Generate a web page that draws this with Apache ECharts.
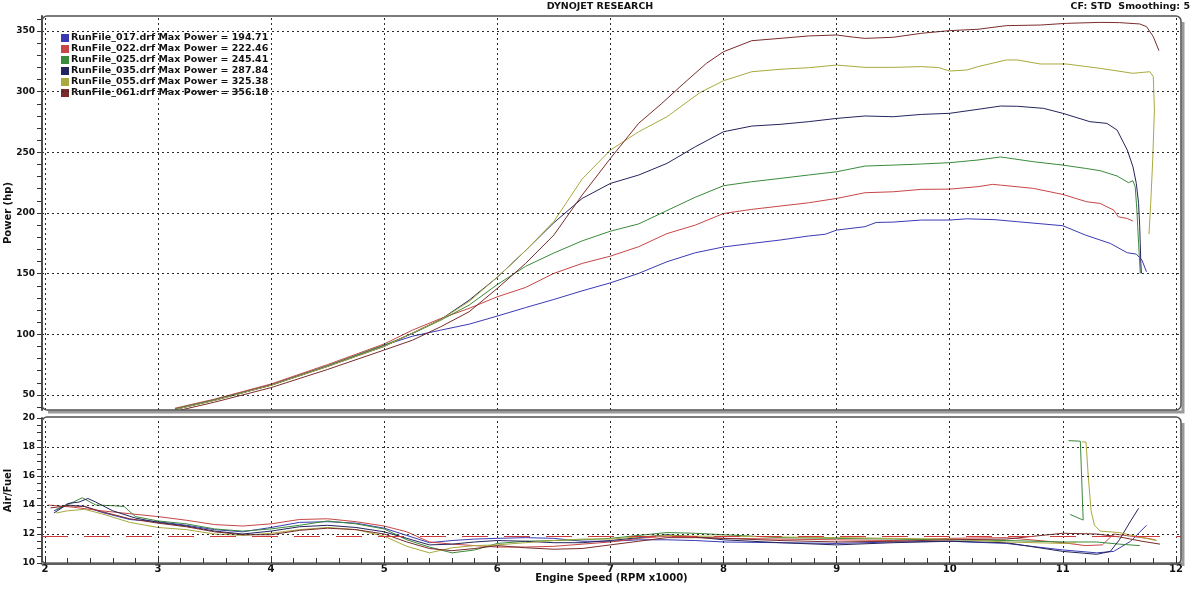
<!DOCTYPE html>
<html><head><meta charset="utf-8">
<script src="https://cdn.jsdelivr.net/npm/echarts@6.0.0/dist/echarts.min.js"></script>
<style>html,body{margin:0;padding:0;background:#fff}#c{width:1200px;height:589px}</style>
</head><body><div id="c"></div>
<script>
// ---------------- DATA ----------------
const runNames = ['RunFile_017.drf','RunFile_022.drf','RunFile_025.drf','RunFile_035.drf','RunFile_055.drf','RunFile_061.drf'];
const maxPower = [194.71, 222.46, 245.41, 287.84, 325.38, 356.18];
const xTickLabels = [2,3,4,5,6,7,8,9,10,11,12];
const powerTicks = [50,100,150,200,250,300,350];
const afrTicks = [10,12,14,16,18,20];
const targetAfr = 11.85;

// Power (hp) vs engine speed (RPM x1000)
const power017 = [[3.17,38.5],[3.5,46],[4.0,58.5],[4.5,74],[5.0,91],[5.25,98.4],[5.5,103.4],[5.75,108.3],[6.0,115],[6.25,122],[6.5,128.7],[6.75,135.8],[7.0,142.4],[7.25,150.2],[7.5,159.8],[7.75,167.2],[8.0,172],[8.25,174.9],[8.5,177.7],[8.75,181],[8.9,182.5],[9.0,185.9],[9.25,188.7],[9.35,192.2],[9.5,192.5],[9.75,194.2],[10.0,194.2],[10.15,195.2],[10.4,194.5],[10.6,192.8],[11.0,189.5],[11.2,181.8],[11.42,174.9],[11.57,167.2],[11.65,166.1],[11.7,161.1],[11.74,151.5]];
const power022 = [[3.15,39],[3.5,46.5],[4.0,59],[4.5,75],[5.0,92],[5.25,103.4],[5.5,113],[5.75,121.3],[6.0,130.9],[6.25,138.6],[6.5,150.2],[6.75,158.4],[7.0,164.4],[7.25,172.2],[7.5,183],[7.75,190],[8.0,199.6],[8.25,203],[8.5,205.7],[8.75,208.4],[9.0,212],[9.25,216.7],[9.5,217.5],[9.75,219.5],[10.0,219.7],[10.25,221.7],[10.38,223.6],[10.45,223],[10.74,220.3],[11.0,215.3],[11.21,209.3],[11.33,207.9],[11.45,202.4],[11.49,196.9],[11.57,195.5],[11.62,193.3]];
const power025 = [[3.15,38.5],[3.5,46],[4.0,58],[4.5,74],[5.0,91],[5.25,100.6],[5.5,111.6],[5.75,124],[6.0,141],[6.25,156],[6.5,167],[6.75,177],[7.0,185],[7.25,191],[7.5,202],[7.75,213],[8.0,222.5],[8.25,225.8],[8.5,228.5],[8.75,231.3],[9.0,234],[9.25,238.7],[9.5,239.5],[9.75,240.4],[10.0,241.5],[10.25,243.7],[10.45,246.2],[10.74,242.3],[11.0,239.5],[11.2,236.8],[11.33,234.9],[11.48,230.5],[11.58,225],[11.62,226.6],[11.64,221.7],[11.655,202.4],[11.67,174.9],[11.685,150.2]];
const power035 = [[3.15,38],[3.5,45.5],[4.0,58],[4.5,73.5],[5.0,90],[5.25,101],[5.5,112.2],[5.75,128],[6.0,147],[6.25,169],[6.5,192],[6.75,212],[7.0,224.4],[7.25,231.3],[7.5,240.9],[7.75,254.6],[8.0,267],[8.25,271.7],[8.5,273.1],[8.75,275.3],[9.0,278],[9.25,280],[9.5,279.4],[9.75,281.3],[10.0,282.2],[10.25,285.5],[10.45,288.2],[10.6,288],[10.83,286.3],[11.0,282.2],[11.24,275.3],[11.39,273.9],[11.48,268.4],[11.57,251.9],[11.62,238.2],[11.65,224.4],[11.67,207.9],[11.68,188.7],[11.69,158.4],[11.695,150.2]];
const power055 = [[3.15,38],[3.5,45.5],[4.0,58],[4.5,73.5],[5.0,90],[5.25,101],[5.5,112],[5.75,127],[6.0,147],[6.25,169],[6.5,193],[6.75,228],[7.0,251.9],[7.25,267],[7.5,279.4],[7.79,299.2],[8.0,309.1],[8.25,316.5],[8.5,318.5],[8.75,319.8],[9.0,322],[9.25,320.1],[9.5,320.1],[9.75,320.7],[9.9,320],[10.0,317.1],[10.15,317.9],[10.25,320.7],[10.5,326.2],[10.6,326.2],[10.8,322.9],[11.03,322.9],[11.33,319.3],[11.62,315.2],[11.71,316],[11.77,316.5],[11.8,312.4],[11.81,285],[11.795,243.7],[11.777,207.9],[11.762,182.6]];
const power061 = [[3.2,37.5],[3.5,44],[4.0,56],[4.5,71],[5.0,87],[5.25,95.1],[5.5,106.2],[5.75,118.5],[6.0,137.8],[6.25,158.4],[6.5,181.8],[6.75,214.8],[7.0,245],[7.25,274],[7.45,290],[7.65,307],[7.85,323.5],[8.0,333],[8.25,342.1],[8.5,344],[8.75,346],[9.0,346.8],[9.15,345],[9.25,344],[9.5,344.9],[9.75,348.2],[10.0,350.4],[10.25,351.5],[10.5,354.5],[10.8,355],[11.03,356.4],[11.33,357.2],[11.5,357],[11.68,355.9],[11.74,353.7],[11.8,345.4],[11.85,333.9]];

// Air/Fuel ratio vs engine speed (RPM x1000)
const afr017 = [[2.08,13.6],[2.2,14.0],[2.35,13.9],[2.5,13.5],[2.75,13.0],[3.0,12.85],[3.25,12.6],[3.5,12.3],[3.75,12.15],[4.0,12.45],[4.25,12.8],[4.5,12.85],[4.75,12.75],[5.0,12.4],[5.2,11.9],[5.4,11.4],[5.6,11.55],[5.8,11.65],[6.0,11.7],[6.25,11.75],[6.5,11.7],[6.75,11.5],[7.0,11.5],[7.25,11.6],[7.5,11.6],[7.75,11.55],[8.0,11.45],[8.5,11.4],[9.0,11.35],[9.5,11.45],[10.0,11.5],[10.5,11.35],[11.0,10.9],[11.3,10.7],[11.45,10.8],[11.6,11.5],[11.74,12.6]];
const afr022 = [[2.03,14.0],[2.25,13.85],[2.5,13.6],[2.75,13.4],[3.0,13.2],[3.25,12.95],[3.5,12.65],[3.75,12.55],[4.0,12.7],[4.25,13.0],[4.5,13.05],[4.75,12.85],[5.0,12.55],[5.2,12.15],[5.4,11.45],[5.6,11.3],[5.8,11.2],[6.0,11.1],[6.25,11.1],[6.5,11.15],[6.75,11.3],[7.0,11.45],[7.25,11.7],[7.5,11.85],[7.75,11.8],[8.0,11.7],[8.5,11.65],[9.0,11.6],[9.5,11.55],[10.0,11.7],[10.5,11.75],[11.0,11.4],[11.2,11.2],[11.35,11.25],[11.45,12.0],[11.6,11.85],[11.75,11.7],[11.82,11.6]];
const afr025 = [[2.1,13.7],[2.25,14.2],[2.33,14.5],[2.45,14.0],[2.6,13.95],[2.7,13.9],[2.8,13.2],[3.0,12.9],[3.25,12.7],[3.5,12.35],[3.75,12.2],[4.0,12.35],[4.25,12.6],[4.5,12.9],[4.75,12.7],[5.0,12.35],[5.2,11.6],[5.4,11.1],[5.6,10.7],[5.8,10.9],[6.0,11.35],[6.25,11.5],[6.5,11.55],[6.75,11.6],[7.0,11.7],[7.25,11.9],[7.5,12.1],[7.75,12.05],[8.0,11.95],[8.5,11.75],[9.0,11.7],[9.5,11.65],[10.0,11.6],[10.5,11.55],[11.0,11.45],[11.3,11.45],[11.5,11.3],[11.68,11.2]];
const afr025Tail = [[11.05,18.44],[11.155,18.4],[11.18,12.96],[11.065,13.35]];
const afr035 = [[2.08,13.45],[2.15,13.8],[2.2,14.1],[2.3,14.2],[2.38,14.45],[2.45,14.2],[2.6,13.6],[2.8,13.1],[3.0,12.8],[3.25,12.55],[3.5,12.2],[3.75,12.0],[4.0,12.2],[4.25,12.5],[4.5,12.6],[4.75,12.45],[5.0,12.15],[5.2,11.7],[5.4,11.25],[5.6,11.3],[5.8,11.45],[6.0,11.55],[6.25,11.5],[6.5,11.4],[6.75,11.4],[7.0,11.55],[7.25,11.75],[7.5,11.95],[7.75,11.8],[8.0,11.6],[8.5,11.4],[9.0,11.25],[9.5,11.4],[10.0,11.5],[10.5,11.4],[11.0,10.8],[11.3,10.6],[11.42,10.8],[11.5,11.6],[11.6,12.9],[11.67,13.77]];
const afr055 = [[2.1,13.45],[2.2,13.6],[2.35,13.7],[2.5,13.4],[2.75,12.8],[3.0,12.45],[3.25,12.3],[3.5,12.0],[3.75,11.9],[4.0,12.05],[4.25,12.3],[4.5,12.45],[4.75,12.3],[5.0,11.85],[5.2,11.15],[5.4,10.7],[5.6,11.05],[5.8,11.2],[6.0,11.25],[6.25,11.4],[6.5,11.55],[6.75,11.65],[7.0,11.65],[7.25,11.8],[7.5,11.9],[7.75,11.85],[8.0,11.85],[8.5,11.8],[9.0,11.75],[9.5,11.7],[10.0,11.65],[10.5,11.45],[11.0,11.35],[11.12,11.4]];
const afr055Tail = [[11.17,18.35],[11.205,18.35],[11.225,16.0],[11.25,13.6],[11.28,12.6],[11.33,12.2],[11.5,12.1],[11.7,11.75],[11.83,11.55]];
const afr061 = [[2.05,13.8],[2.2,13.95],[2.35,13.9],[2.5,13.55],[2.75,13.05],[3.0,12.75],[3.25,12.5],[3.5,12.15],[3.75,11.95],[4.0,11.95],[4.25,12.25],[4.5,12.4],[4.75,12.3],[5.0,12.0],[5.2,11.45],[5.4,11.0],[5.6,10.85],[5.8,11.0],[6.0,11.2],[6.25,11.05],[6.5,10.95],[6.75,11.0],[7.0,11.25],[7.25,11.5],[7.5,11.75],[7.75,11.75],[8.0,11.7],[8.5,11.55],[9.0,11.45],[9.5,11.5],[10.0,11.6],[10.5,11.65],[11.0,12.05],[11.3,12.0],[11.5,11.8],[11.7,11.5],[11.86,11.3]];

// ---------------- CHART ----------------
const powerSets = [power017, power022, power025, power035, power055, power061];
const afrSets = [afr017, afr022, afr025, afr035, afr055, afr061];
const colors = ['#3a3ab4', '#c84646', '#3b8a3b', '#24245e', '#a9a93e', '#7a2c2c'];
const FONT = 'DejaVu Sans';

function steps(a, b, s) { const out = []; for (let v = a; v <= b + 1e-9; v += s) out.push(+v.toFixed(4)); return out; }
const xMinorTicks = steps(2, 12, 0.2);
const powerMinorTicks = steps(40, 360, 10);
const afrMinorTicks = steps(10, 20, 0.5);

const XMIN = 1.9744, XMAX = 12.045;
const PMIN = 37.54, PMAX = 362.46;

const gridLine = { color: '#2a2a2a', type: [2, 3], width: 1 };
const labelStyle = { color: '#111', fontWeight: 'bold', fontFamily: FONT };
const nameStyle = { fontSize: 10, fontWeight: 'bold', color: '#111', fontFamily: FONT };

const series = [];
series.push({
  type: 'line', xAxisIndex: 0, yAxisIndex: 0, data: [], z: 1, silent: true,
  markLine: { symbol: ['none', 'none'], silent: true, animation: false, label: { show: false },
    lineStyle: gridLine,
    data: powerTicks.map(v => ({ yAxis: v })).concat(xTickLabels.map(v => ({ xAxis: v }))) }
});
series.push({
  type: 'line', xAxisIndex: 1, yAxisIndex: 1, data: [], z: 1, silent: true,
  markLine: { symbol: ['none', 'none'], silent: true, animation: false, label: { show: false },
    lineStyle: gridLine,
    data: afrTicks.filter(v => v > 10 && v < 20).map(v => ({ yAxis: v }))
      .concat(xTickLabels.map(v => ({ xAxis: v })))
      .concat([{ yAxis: targetAfr, lineStyle: { color: '#d03a3a', type: [26, 16], width: 1.2 } }]) }
});

runNames.forEach((name, i) => {
  const common = { name, type: 'line', showSymbol: false, symbol: 'none', z: 3, animation: false,
    lineStyle: { width: 1, color: colors[i] }, itemStyle: { color: colors[i] } };
  series.push(Object.assign({}, common, { xAxisIndex: 0, yAxisIndex: 0, data: powerSets[i] }));
  series.push(Object.assign({}, common, { xAxisIndex: 1, yAxisIndex: 1, data: afrSets[i] }));
});
series.push({ name: runNames[2], type: 'line', showSymbol: false, symbol: 'none', z: 3, animation: false,
  lineStyle: { width: 1, color: colors[2] }, itemStyle: { color: colors[2] }, xAxisIndex: 1, yAxisIndex: 1, data: afr025Tail });
series.push({ name: runNames[4], type: 'line', showSymbol: false, symbol: 'none', z: 3, animation: false,
  lineStyle: { width: 1, color: colors[4] }, itemStyle: { color: colors[4] }, xAxisIndex: 1, yAxisIndex: 1, data: afr055Tail });

const chart = echarts.init(document.getElementById('c'), null, { renderer: 'canvas' });
chart.setOption({
  animation: false,
  backgroundColor: '#ffffff',
  textStyle: { fontFamily: FONT },
  title: [
    { text: 'DYNOJET RESEARCH', left: 'center', top: 2, padding: 0,
      textStyle: { fontSize: 9.5, fontWeight: 'bold', color: '#111', fontFamily: FONT } },
    { text: 'CF: STD  Smoothing: 5', right: 10, top: 2, padding: 0,
      textStyle: { fontSize: 9.5, fontWeight: 'bold', color: '#111', fontFamily: FONT } }
  ],
  legend: {
    data: runNames, orient: 'vertical', left: 61, top: 33, padding: 0, itemGap: 1,
    icon: 'rect', itemWidth: 8, itemHeight: 8, selectedMode: false,
    textStyle: { fontSize: 9.5, fontWeight: 'bold', color: '#111', fontFamily: FONT, lineHeight: 9, padding: [0, 0, 0, -3] },
    formatter: name => name + ' Max Power = ' + maxPower[runNames.indexOf(name)].toFixed(2)
  },
  grid: [
    { left: 42, top: 16, width: 1139, height: 394, containLabel: false, outerBoundsMode: 'none' },
    { left: 42, top: 418, width: 1139, height: 145, containLabel: false, outerBoundsMode: 'none' }
  ],
  xAxis: [
    { type: 'value', gridIndex: 0, min: XMIN, max: XMAX, show: true,
      axisLine: { show: false }, axisTick: { show: false }, axisLabel: { show: false }, splitLine: { show: false } },
    { type: 'value', gridIndex: 1, min: XMIN, max: XMAX,
      axisLine: { onZero: false, lineStyle: { color: '#8c8c8c', width: 3 } },
      axisTick: { inside: true, length: 5, customValues: xMinorTicks, lineStyle: { color: '#333', width: 1 } },
      axisLabel: Object.assign({ customValues: xTickLabels, fontSize: 10, margin: 1 }, labelStyle),
      splitLine: { show: false },
      name: 'Engine Speed (RPM x1000)', nameLocation: 'middle', nameGap: 10, nameMoveOverlap: false, nameTextStyle: nameStyle }
  ],
  yAxis: [
    { type: 'value', gridIndex: 0, min: PMIN, max: PMAX,
      axisLine: { show: true, onZero: false, lineStyle: { color: '#4a4a4a', width: 2 } },
      axisTick: { show: true, length: 5, customValues: powerMinorTicks, lineStyle: { color: '#333' } },
      axisLabel: Object.assign({ customValues: powerTicks, fontSize: 9, margin: 7 }, labelStyle),
      splitLine: { show: false },
      name: 'Power (hp)', nameLocation: 'middle', nameGap: 29, nameRotate: 90, nameMoveOverlap: false, nameTextStyle: nameStyle },
    { type: 'value', gridIndex: 1, min: 10, max: 20,
      axisLine: { show: true, onZero: false, lineStyle: { color: '#4a4a4a', width: 2 } },
      axisTick: { show: true, length: 5, customValues: afrMinorTicks, lineStyle: { color: '#333' } },
      axisLabel: Object.assign({ customValues: afrTicks, fontSize: 9, margin: 7 }, labelStyle),
      splitLine: { show: false },
      name: 'Air/Fuel', nameLocation: 'middle', nameGap: 29, nameRotate: 90, nameMoveOverlap: false, nameTextStyle: nameStyle }
  ],
  graphic: [
    { type: 'polyline', z: 5, silent: true, shape: { points: [[1183, 22], [1183, 412], [48, 412]] },
      style: { stroke: '#9a9a9a', lineWidth: 3, fill: null } },
    { type: 'rect', z: 6, silent: true, shape: { x: 42, y: 16, width: 1139, height: 394, r: 5 },
      style: { fill: null, stroke: '#505050', lineWidth: 1.5 } },
    { type: 'polyline', z: 5, silent: true, shape: { points: [[1183, 423], [1183, 566]] },
      style: { stroke: '#9a9a9a', lineWidth: 3, fill: null } },
    { type: 'rect', z: 6, silent: true, shape: { x: 42, y: 417, width: 1139, height: 147, r: 5 },
      style: { fill: null, stroke: '#505050', lineWidth: 1.5 } }
  ],
  series
});
</script>
</body></html>
